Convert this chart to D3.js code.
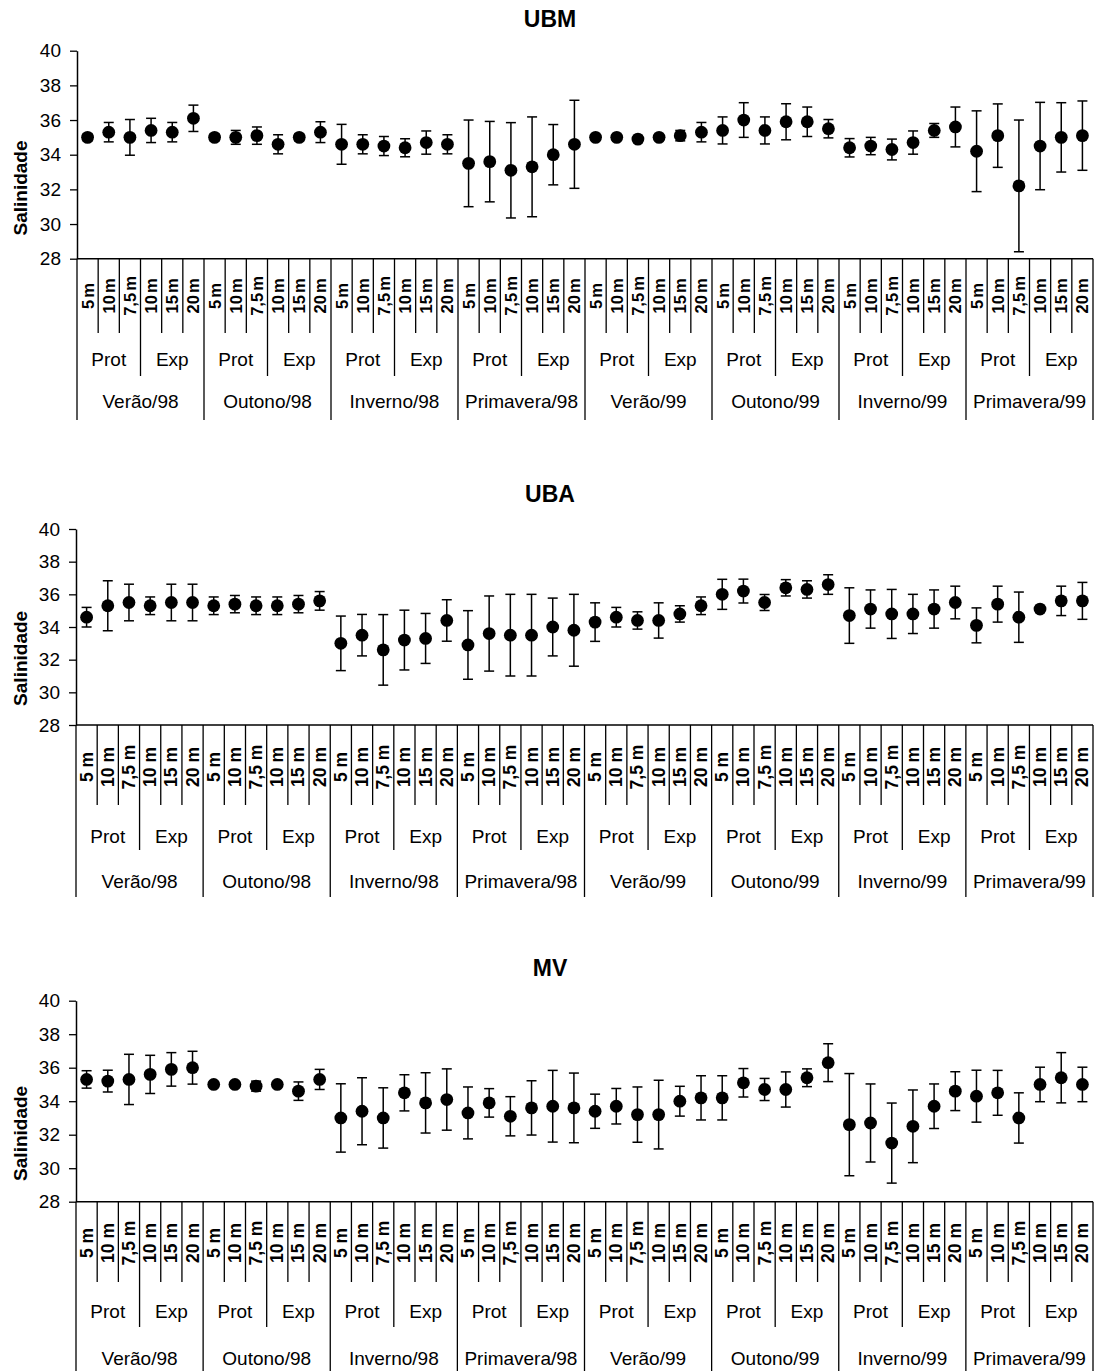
<!DOCTYPE html>
<html>
<head>
<meta charset="utf-8">
<script src="https://cdn.jsdelivr.net/npm/d3@7"></script>
<style>
  html, body { margin: 0; padding: 0; background: #fff; }
  svg { display: block; }
  text { font-family: "Liberation Sans", Arial, sans-serif; fill: #000; }
</style>
</head>
<body>
<svg id="chart" width="1098" height="1371"></svg>
<script>
// Category levels of the x axis
const seasons = ["Verão/98", "Outono/98", "Inverno/98", "Primavera/98",
                 "Verão/99", "Outono/99", "Inverno/99", "Primavera/99"];
const sites = ["Prot", "Exp"];
const depths = ["5 m", "10 m", "7,5 m", "10 m", "15 m", "20 m"];
const yTicks = [28, 30, 32, 34, 36, 38, 40];
const yLabel = "Salinidade";

// Mean salinity and standard deviation, 48 samples per station
const ubmMean = [35.0, 35.3, 35.0, 35.4, 35.3, 36.1,
                 35.0, 35.0, 35.1, 34.6, 35.0, 35.3,
                 34.6, 34.6, 34.5, 34.4, 34.7, 34.6,
                 33.5, 33.6, 33.1, 33.3, 34.0, 34.6,
                 35.0, 35.0, 34.9, 35.0, 35.1, 35.3,
                 35.4, 36.0, 35.4, 35.9, 35.9, 35.5,
                 34.4, 34.5, 34.3, 34.7, 35.4, 35.6,
                 34.2, 35.1, 32.2, 34.5, 35.0, 35.1];
const ubmSd = [0.2, 0.56, 1.03, 0.7, 0.56, 0.76,
               0.2, 0.4, 0.5, 0.55, 0.2, 0.6,
               1.15, 0.55, 0.55, 0.52, 0.67, 0.55,
               2.5, 2.32, 2.75, 2.88, 1.74, 2.54,
               0.15, 0.15, 0.15, 0.15, 0.3, 0.56,
               0.78, 1.0, 0.78, 1.04, 0.85, 0.53,
               0.53, 0.5, 0.6, 0.67, 0.4, 1.15,
               2.33, 1.83, 3.8, 2.52, 2.0, 2.0];

const ubaMean = [34.6, 35.3, 35.5, 35.3, 35.5, 35.5,
                 35.3, 35.4, 35.3, 35.3, 35.4, 35.6,
                 33.0, 33.5, 32.6, 33.2, 33.3, 34.4,
                 32.9, 33.6, 33.5, 33.5, 34.0, 33.8,
                 34.3, 34.6, 34.4, 34.4, 34.8, 35.3,
                 36.0, 36.2, 35.5, 36.4, 36.3, 36.6,
                 34.7, 35.1, 34.8, 34.8, 35.1, 35.5,
                 34.1, 35.4, 34.6, 35.1, 35.6, 35.6];
const ubaSd = [0.6, 1.53, 1.12, 0.54, 1.12, 1.12,
               0.54, 0.53, 0.54, 0.54, 0.53, 0.57,
               1.67, 1.27, 2.16, 1.83, 1.53, 1.27,
               2.1, 2.3, 2.5, 2.5, 1.77, 2.2,
               1.18, 0.6, 0.53, 1.08, 0.5, 0.54,
               0.92, 0.73, 0.49, 0.5, 0.53, 0.6,
               1.7, 1.17, 1.5, 1.2, 1.17, 1.0,
               1.07, 1.1, 1.54, 0.2, 0.9, 1.13];

const mvMean = [35.3, 35.2, 35.3, 35.6, 35.9, 36.0,
                35.0, 35.0, 34.9, 35.0, 34.6, 35.3,
                33.0, 33.4, 33.0, 34.5, 33.9, 34.1,
                33.3, 33.9, 33.1, 33.6, 33.7, 33.6,
                33.4, 33.7, 33.2, 33.2, 34.0, 34.2,
                34.2, 35.1, 34.7, 34.7, 35.4, 36.3,
                32.6, 32.7, 31.5, 32.5, 33.7, 34.6,
                34.3, 34.5, 33.0, 35.0, 35.4, 35.0];
const mvSd = [0.52, 0.65, 1.5, 1.14, 1.0, 0.98,
              0.15, 0.15, 0.3, 0.15, 0.55, 0.6,
              2.04, 2.0, 1.8, 1.08, 1.8, 1.83,
              1.55, 0.85, 1.17, 1.62, 2.14, 2.08,
              1.02, 1.06, 1.65, 2.05, 0.89, 1.32,
              1.32, 0.85, 0.66, 1.05, 0.53, 1.13,
              3.05, 2.33, 2.39, 2.17, 1.33, 1.16,
              1.55, 1.34, 1.5, 1.03, 1.5, 1.03];

// Panel layout (pixels)
const panels = [
  { title: "UBM", mean: ubmMean, sd: ubmSd, titleY: 19,
    top: 50.7, bottom: 258.7, x0: 77, x1: 1093,
    depthBottom: 333, groupBottom: 376, seasonBottom: 420,
    depthY: 296, groupY: 359, seasonY: 401, depthFont: 16.5, depthSpacing: -2.5 },
  { title: "UBA", mean: ubaMean, sd: ubaSd, titleY: 494,
    top: 529, bottom: 725, x0: 76, x1: 1093,
    depthBottom: 805, groupBottom: 850, seasonBottom: 897,
    depthY: 767, groupY: 836, seasonY: 881, depthFont: 17.5, depthSpacing: 0 },
  { title: "MV", mean: mvMean, sd: mvSd, titleY: 968,
    top: 1000.7, bottom: 1201.7, x0: 76, x1: 1093,
    depthBottom: 1282, groupBottom: 1327, seasonBottom: 1371,
    depthY: 1243, groupY: 1311, seasonY: 1358, depthFont: 17.5, depthSpacing: 0 }
];

const svg = d3.select("#chart");
const nCat = seasons.length * depths.length;

panels.forEach(p => {
  const g = svg.append("g");
  const cats = d3.range(nCat);
  const x = d3.scaleBand().domain(cats).range([p.x0, p.x1]).padding(0);
  const y = d3.scaleLinear().domain([28, 40]).range([p.bottom, p.top]);
  const bw = x.bandwidth();

  // Title
  g.append("text")
    .attr("x", 550).attr("y", p.titleY)
    .attr("text-anchor", "middle").attr("dominant-baseline", "central")
    .style("font-weight", "bold").style("font-size", "23px")
    .text(p.title);

  // Y axis
  const yAxis = d3.axisLeft(y).tickValues(yTicks).tickSize(7).tickSizeOuter(0).tickPadding(9);
  const ya = g.append("g").attr("transform", `translate(${p.x0},0)`).call(yAxis);
  ya.select(".domain").attr("stroke", "#000").attr("stroke-width", 1.5);
  ya.selectAll(".tick line").attr("stroke", "#000").attr("stroke-width", 1.3);
  ya.selectAll(".tick text")
    .style("font-size", "19px").style("font-family", "'Liberation Sans', Arial, sans-serif")
    .attr("fill", "#000");

  // Y label
  g.append("text")
    .attr("transform", `translate(20,${p.top + 0.66 * (p.bottom - p.top)}) rotate(-90)`)
    .attr("text-anchor", "middle").attr("dominant-baseline", "central")
    .style("font-weight", "bold").style("font-size", "19px")
    .text(yLabel);

  // X axis baseline
  g.append("line")
    .attr("x1", p.x0).attr("x2", p.x1)
    .attr("y1", y(28)).attr("y2", y(28))
    .attr("stroke", "#000").attr("stroke-width", 1.5);

  // Category separators at three levels
  const bounds = d3.range(nCat + 1);
  g.selectAll("line.sep").data(bounds).join("line")
    .attr("class", "sep")
    .attr("x1", i => i < nCat ? x(i) : p.x1)
    .attr("x2", i => i < nCat ? x(i) : p.x1)
    .attr("y1", y(28))
    .attr("y2", i => i % 6 === 0 ? p.seasonBottom : (i % 3 === 0 ? p.groupBottom : p.depthBottom))
    .attr("stroke", "#000").attr("stroke-width", 1.3);

  // Depth labels (rotated)
  g.selectAll("text.depth").data(cats).join("text")
    .attr("class", "depth")
    .attr("transform", i => `translate(${x(i) + bw / 2},${p.depthY}) rotate(-90)`)
    .attr("text-anchor", "middle").attr("dominant-baseline", "central")
    .style("font-weight", "bold").style("font-size", p.depthFont + "px")
    .style("word-spacing", p.depthSpacing + "px")
    .text(i => depths[i % depths.length]);

  // Site labels
  const groups = d3.range(seasons.length * sites.length);
  g.selectAll("text.site").data(groups).join("text")
    .attr("class", "site")
    .attr("x", k => x(k * 3) + bw * 1.5)
    .attr("y", p.groupY)
    .attr("text-anchor", "middle").attr("dominant-baseline", "central")
    .style("font-size", "19px")
    .text(k => sites[k % 2]);

  // Season labels
  g.selectAll("text.season").data(seasons).join("text")
    .attr("class", "season")
    .attr("x", (s, k) => x(k * 6) + bw * 3)
    .attr("y", p.seasonY)
    .attr("text-anchor", "middle").attr("dominant-baseline", "central")
    .style("font-size", "19px")
    .text(s => s);

  // Error bars and means
  const data = cats.map(i => ({ i, m: p.mean[i], s: p.sd[i] }));
  const eb = g.selectAll("g.eb").data(data).join("g").attr("class", "eb");
  eb.append("line")
    .attr("x1", d => x(d.i) + bw / 2).attr("x2", d => x(d.i) + bw / 2)
    .attr("y1", d => y(d.m - d.s)).attr("y2", d => y(d.m + d.s))
    .attr("stroke", "#000").attr("stroke-width", 1.5);
  [-1, 1].forEach(sg => {
    eb.append("line")
      .attr("x1", d => x(d.i) + bw / 2 - 5).attr("x2", d => x(d.i) + bw / 2 + 5)
      .attr("y1", d => y(d.m + sg * d.s)).attr("y2", d => y(d.m + sg * d.s))
      .attr("stroke", "#000").attr("stroke-width", 1.5);
  });
  eb.append("circle")
    .attr("cx", d => x(d.i) + bw / 2)
    .attr("cy", d => y(d.m))
    .attr("r", 6.4)
    .attr("fill", "#000");
});
</script>
</body>
</html>
